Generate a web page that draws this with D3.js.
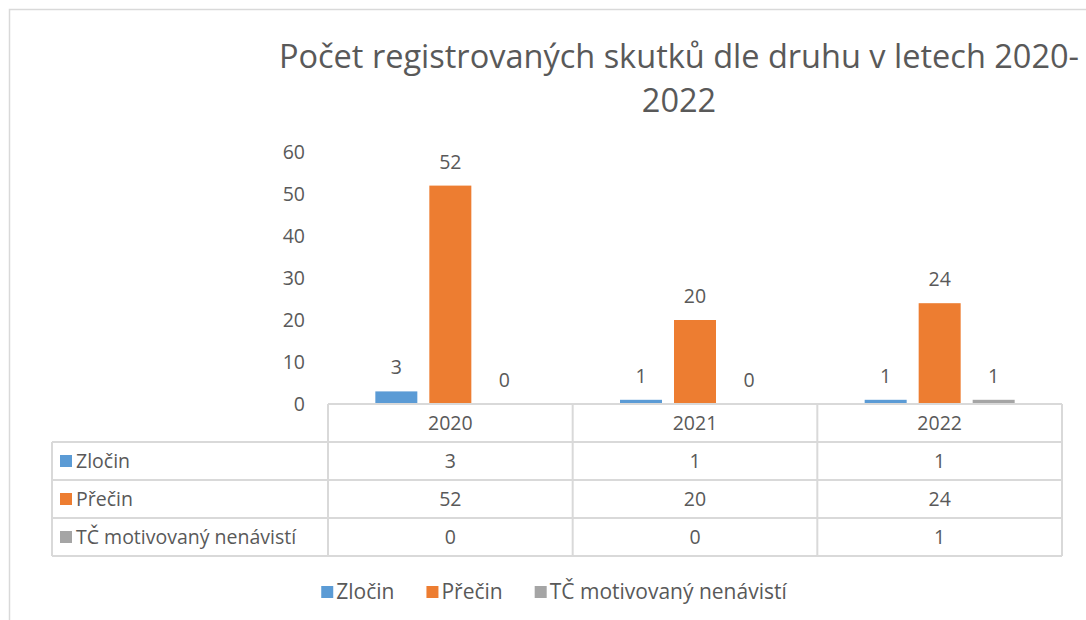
<!DOCTYPE html>
<html>
<head>
<meta charset="utf-8">
<script src="https://cdnjs.cloudflare.com/ajax/libs/d3/7.8.5/d3.min.js"></script>
<style>
  body { margin: 0; background: #fff; }
  text { font-family: "Open Sans", sans-serif; fill: #595959; }
</style>
</head>
<body>
<div id="chart"></div>
<script>
var years = ['2020', '2021', '2022'];
var series = ['Zločin', 'Přečin', 'TČ motivovaný nenávistí'];
var zlocin = [3, 1, 1];
var precin = [52, 20, 24];
var tcNen = [0, 0, 1];
var yTicks = [0, 10, 20, 30, 40, 50, 60];
var colors = ['#5b9bd5', '#ed7d31', '#a5a5a5'];

var values = [zlocin, precin, tcNen];

var W = 1086, H = 620;
var plot = {left: 328, right: 1062, top: 152, bottom: 404};
var tableLeft = 52, rowH = 38;
var fs = '19.5px';

var svg = d3.select('#chart')
  .append('svg')
    .attr('width', W)
    .attr('height', H);

// chart border (only top/left visible in crop)
svg.append('path')
  .attr('d', 'M9.5,620 L9.5,9.5 L1086,9.5')
  .attr('fill', 'none')
  .attr('stroke', '#d9d9d9')
  .attr('stroke-width', 1.5);

// title
var title = svg.append('text')
  .attr('text-anchor', 'middle')
  .style('font-size', '32.5px');
title.append('tspan').attr('x', 679).attr('y', 68).text('Počet registrovaných skutků dle druhu v letech 2020-');
title.append('tspan').attr('x', 679).attr('y', 112).text('2022');

var x = d3.scaleBand()
  .domain(years)
  .range([plot.left, plot.right]);

var bw = x.bandwidth();
var groupW = 150;
var xs = d3.scaleBand()
  .domain(series)
  .range([(bw - groupW) / 2, (bw + groupW) / 2])
  .paddingInner(12 / 54);

var y = d3.scaleLinear()
  .domain([0, 60])
  .range([plot.bottom, plot.top]);

// y tick labels
svg.append('g')
  .selectAll('text')
  .data(yTicks)
  .enter().append('text')
    .attr('x', 305)
    .attr('y', function(d) { return y(d); })
    .attr('dy', '0.35em')
    .attr('text-anchor', 'end')
    .style('font-size', fs)
    .text(function(d) { return d; });

// bars
var groups = svg.append('g').selectAll('g')
  .data(years)
  .enter().append('g')
    .attr('transform', function(d) { return 'translate(' + x(d) + ',0)'; });

groups.selectAll('rect')
  .data(function(d, i) { return series.map(function(s, j) { return {s: s, v: values[j][i], j: j}; }); })
  .enter().append('rect')
    .attr('x', function(d) { return xs(d.s); })
    .attr('y', function(d) { return y(d.v); })
    .attr('width', xs.bandwidth())
    .attr('height', function(d) { return y(0) - y(d.v); })
    .attr('fill', function(d) { return colors[d.j]; });

groups.selectAll('text')
  .data(function(d, i) { return series.map(function(s, j) { return {s: s, v: values[j][i], j: j}; }); })
  .enter().append('text')
    .attr('x', function(d) { return xs(d.s) + xs.bandwidth() / 2; })
    .attr('y', function(d) { return y(d.v) - 17; })
    .attr('text-anchor', 'middle')
    .style('font-size', fs)
    .text(function(d) { return d.v; });

// data table
var grid = svg.append('g')
  .attr('stroke', '#d9d9d9')
  .attr('stroke-width', 2)
  .attr('fill', 'none');

var tableBottom = plot.bottom + rowH * (series.length + 1);
// horizontal lines
grid.append('line')
  .attr('x1', plot.left).attr('x2', plot.right)
  .attr('y1', plot.bottom).attr('y2', plot.bottom);
d3.range(1, series.length + 2).forEach(function(k) {
  grid.append('line')
    .attr('x1', tableLeft).attr('x2', plot.right)
    .attr('y1', plot.bottom + k * rowH).attr('y2', plot.bottom + k * rowH);
});
// vertical lines
grid.append('line')
  .attr('x1', tableLeft).attr('x2', tableLeft)
  .attr('y1', plot.bottom + rowH).attr('y2', tableBottom);
years.forEach(function(yr) {
  grid.append('line')
    .attr('x1', x(yr)).attr('x2', x(yr))
    .attr('y1', plot.bottom).attr('y2', tableBottom);
});
grid.append('line')
  .attr('x1', plot.right).attr('x2', plot.right)
  .attr('y1', plot.bottom).attr('y2', tableBottom);

// header years
svg.append('g').selectAll('text')
  .data(years)
  .enter().append('text')
    .attr('x', function(d) { return x(d) + bw / 2; })
    .attr('y', plot.bottom + rowH / 2)
    .attr('dy', '0.35em')
    .attr('text-anchor', 'middle')
    .style('font-size', fs)
    .text(function(d) { return d; });

// row labels and values
series.forEach(function(s, j) {
  var cy = plot.bottom + rowH * (j + 1) + rowH / 2;
  svg.append('rect')
    .attr('x', 60).attr('y', cy - 6)
    .attr('width', 12).attr('height', 12)
    .attr('fill', colors[j]);
  svg.append('text')
    .attr('x', 76).attr('y', cy)
    .attr('dy', '0.35em')
    .style('font-size', fs)
    .text(s);
  svg.append('g').selectAll('text')
    .data(values[j])
    .enter().append('text')
      .attr('x', function(d, i) { return x(years[i]) + bw / 2; })
      .attr('y', cy)
      .attr('dy', '0.35em')
      .attr('text-anchor', 'middle')
      .style('font-size', fs)
      .text(function(d) { return d; });
});

// legend
var legend = svg.append('g');
var items = legend.selectAll('g')
  .data(series)
  .enter().append('g');
items.append('rect')
  .attr('y', 586)
  .attr('width', 12).attr('height', 12)
  .attr('fill', function(d, j) { return colors[j]; });
items.append('text')
  .attr('x', 15)
  .attr('y', 592)
  .attr('dy', '0.35em')
  .style('font-size', '21px')
  .text(function(d) { return d; });

var pos = 0, offsets = [];
items.each(function() {
  offsets.push(pos);
  pos += 15 + d3.select(this).select('text').node().getComputedTextLength() + 32;
});
var total = pos - 32;
var start = 554 - total / 2;
items.attr('transform', function(d, j) { return 'translate(' + (start + offsets[j]) + ',0)'; });
</script>
</body>
</html>
